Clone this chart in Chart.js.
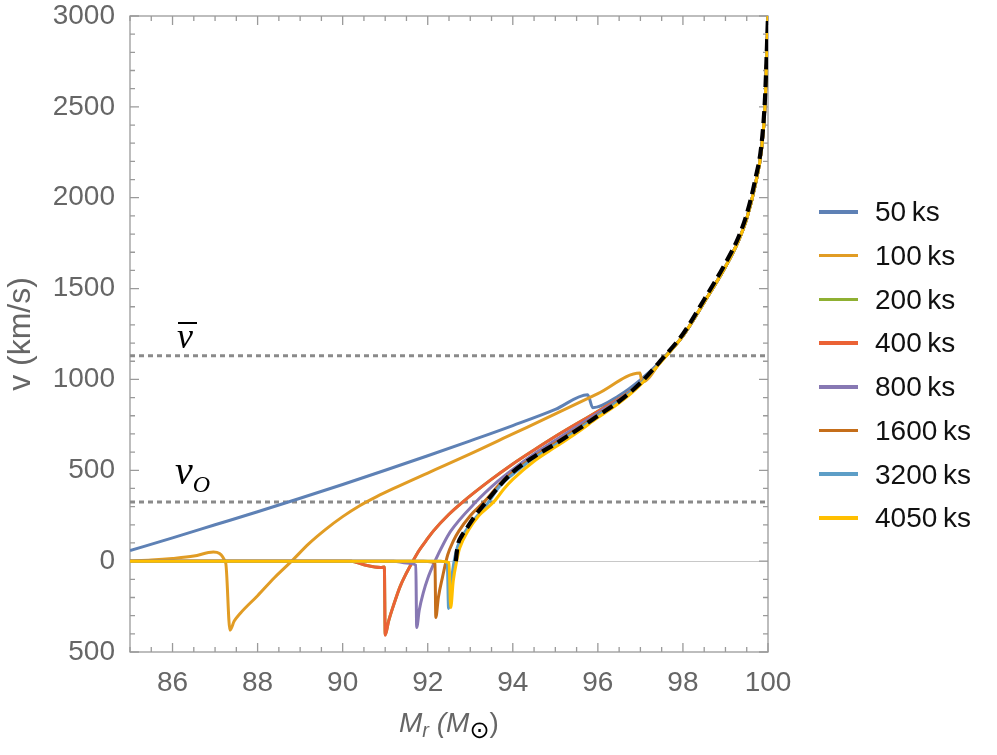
<!DOCTYPE html>
<html><head><meta charset="utf-8">
<script src="https://cdn.jsdelivr.net/npm/chart.js@4/dist/chart.umd.min.js"></script>
<style>
html,body{margin:0;padding:0;background:#fff;}
#wrap{position:relative;width:997px;height:755px;overflow:hidden;background:#fff;}
canvas{position:absolute;left:0;top:0;}
.t{position:absolute;white-space:nowrap;}
</style></head><body>
<div id="wrap"><canvas id="c" width="997" height="755"></canvas></div>
<script>
// ---------------- data ----------------
const seriesLabels = ["50\u2009ks","100\u2009ks","200\u2009ks","400\u2009ks","800\u2009ks","1600\u2009ks","3200\u2009ks","4050\u2009ks"];
const xTickLabels = [86,88,90,92,94,96,98,100];
const yTickLabels = [-500,0,500,1000,1500,2000,2500,3000];
const refLevels = [1130, 325];           // v-bar, v_O

const m50  = [85,86,87,88,89,90,91,92,93,94,95,95.76,95.88,96.5,97,97.5,98,98.5,99,99.3,99.5,99.7,99.85,99.93,100];
const v50  = [58,128,200,272,346,422,500,580,662,746,835,916,844,912,998,1105,1240,1425,1620,1760,1885,2070,2270,2510,3000];

const m100 = [85,85.5,86,86.5,86.96,87.25,87.35,87.45,87.6,88,88.4,88.8,89.2,89.6,90,90.4,90.8,91.2,92,93,94,95,96,96.99,97.04,97.5,98,98.5,99,99.3,99.5,99.7,99.85,99.93,100];
const v100 = [0,6,15,28,50,-10,-380,-330,-285,-190,-90,0,95,175,245,305,355,400,485,590,700,810,922,1035,985,1105,1240,1425,1620,1760,1885,2070,2270,2510,3000];

const m200 = [85,90.2,90.5,90.9,90.98,91.0,91.08,91.2,91.35,91.5,91.65,91.8,92.0,92.14,92.5,92.82,93.48,94,94.5,95.13,96.07,97,97.5,98,98.5,99,99.3,99.5,99.7,99.85,99.93,100];
const v200 = [0,0,-20,-35,-32,-405,-330,-240,-140,-65,0,60,125,168,258,325,447,535,612,705,835,975,1105,1240,1425,1620,1760,1885,2070,2270,2510,3000];

const m400 = [85,90.2,90.5,90.9,90.98,91.0,91.08,91.2,91.35,91.5,91.65,91.8,92.0,92.14,92.5,92.82,93.48,94,94.5,95.13,96.07,97,97.5,98,98.5,99,99.3,99.5,99.7,99.85,99.93,100];
const v400 = [0,0,-20,-35,-32,-408,-330,-240,-140,-65,0,60,125,168,258,325,447,535,612,705,835,975,1105,1240,1425,1620,1760,1885,2070,2270,2510,3000];

const m800 = [85,91.2,91.5,91.72,91.74,91.8,91.9,92.0,92.17,92.38,92.54,93.13,93.65,94,94.5,95,96,97,97.5,98,98.5,99,99.3,99.5,99.7,99.85,99.93,100];
const v800 = [0,0,-10,-22,-365,-270,-170,-95,0,100,165,325,440,505,590,665,815,975,1105,1240,1425,1620,1760,1885,2070,2270,2510,3000];

const m1600 = [85,91.9,92.1,92.17,92.19,92.25,92.35,92.47,92.6,92.73,93.0,93.32,93.7,94,94.5,95,96,97,97.5,98,98.5,99,99.3,99.5,99.7,99.85,99.93,100];
const v1600 = [0,0,-5,-15,-310,-200,-85,35,110,165,250,325,425,490,575,650,805,975,1105,1240,1425,1620,1760,1885,2070,2270,2510,3000];

const m3200 = [85,92.3,92.46,92.49,92.55,92.62,92.7,92.9,93.4,93.7,94,94.5,95,96,97,97.5,98,98.5,99,99.3,99.5,99.7,99.85,99.93,100];
const v3200 = [0,0,-10,-260,-120,0,80,170,315,415,478,568,640,800,975,1105,1240,1425,1620,1760,1885,2070,2270,2510,3000];

const m4050 = [85,92.3,92.5,92.54,92.6,92.68,92.75,92.96,93.2,93.55,93.8,94,94.5,95,95.5,96,96.5,97,97.5,98,98.5,99,99.3,99.5,99.7,99.85,99.93,100];
const v4050 = [0,0,-8,-255,-110,0,70,171,250,325,400,450,550,628,705,790,870,970,1100,1240,1425,1620,1760,1885,2070,2270,2510,3000];

const mRef = [92.66,92.7,92.8,92.89,93.1,93.37,93.67,94,94.5,95,95.5,96,96.5,97,97.5,98,98.5,99,99.3,99.5,99.7,99.85,99.93,100];
const vRef = [0,80,140,171,245,325,410,490,575,645,720,800,880,980,1110,1250,1440,1640,1780,1910,2100,2300,2550,3000];

// ---------------- styles ----------------
const colors = ["#5E81B5","#E19C24","#8FB032","#EB6235","#8778B3","#C56E1A","#5D9EC7","#FFBF00"];
const seriesM = [m50,m100,m200,m400,m800,m1600,m3200,m4050];
const seriesV = [v50,v100,v200,v400,v800,v1600,v3200,v4050];
const FONT = "'Liberation Sans', Arial, sans-serif";

const pts = (m, v) => m.map((x, i) => ({x: x, y: v[i]}));

const datasets = [];
datasets.push({label:'ref', data: pts(mRef, vRef), borderColor:'#000', borderWidth:4.2, borderDash:[12,6],
  pointRadius:0, cubicInterpolationMode:'monotone', fill:false, order:0});
seriesLabels.forEach((lab, i) => {
  datasets.push({label: lab, data: pts(seriesM[i], seriesV[i]), borderColor: colors[i], borderWidth: 3,
    pointRadius: 0, cubicInterpolationMode: 'monotone', fill: false, order: 8 - i + 1});
});
refLevels.forEach((lv) => {
  datasets.push({label:'level', data: [{x:85, y:lv}, {x:100, y:lv}], borderColor:'#8a8a8a', borderWidth:3,
    borderDash:[5,4], pointRadius:0, fill:false, order:20});
});

const framePlugin = {
  id: 'frame',
  beforeDatasetsDraw(chart) {
    const {ctx, chartArea: a, scales: {x, y}} = chart;
    ctx.save();
    ctx.strokeStyle = '#c8c8c8'; ctx.lineWidth = 1;
    const y0 = Math.round(y.getPixelForValue(0)) + 0.5;
    ctx.beginPath(); ctx.moveTo(a.left, y0); ctx.lineTo(a.right, y0); ctx.stroke();
    ctx.strokeStyle = '#9a9a9a'; ctx.lineWidth = 1.3;
    ctx.strokeRect(a.left, a.top, a.right - a.left, a.bottom - a.top);
    ctx.beginPath();
    x.ticks.forEach(t => {
      const px = x.getPixelForValue(t.value);
      const L = (t.value % 2 === 0) ? 9 : 5;
      ctx.moveTo(px, a.bottom); ctx.lineTo(px, a.bottom - L);
      ctx.moveTo(px, a.top); ctx.lineTo(px, a.top + L);
    });
    y.ticks.forEach(t => {
      const py = y.getPixelForValue(t.value);
      const L = (t.value % 500 === 0) ? 9 : 5;
      ctx.moveTo(a.left, py); ctx.lineTo(a.left + L, py);
      ctx.moveTo(a.right, py); ctx.lineTo(a.right - L, py);
    });
    ctx.stroke();
    ctx.restore();
  }
};

const chart = new Chart(document.getElementById('c').getContext('2d'), {
  type: 'line',
  data: {datasets},
  options: {
    responsive: false, animation: false, devicePixelRatio: 1,
    layout: {padding: {left: 0, right: 229, top: 16, bottom: 0}},
    plugins: {legend: {display: false}, tooltip: {enabled: false}},
    elements: {point: {radius: 0}, line: {borderCapStyle: 'butt', borderJoinStyle: 'round'}},
    scales: {
      x: {
        type: 'linear', min: 85, max: 100,
        grid: {display: false}, border: {display: false},
        afterBuildTicks: s => { const t = []; for (let k = 0; k <= 30; k++) t.push({value: 85 + k * 0.5}); s.ticks = t; },
        ticks: {autoSkip: false, maxRotation: 0, minRotation: 0, padding: 6, color: '#666',
          font: {family: FONT, size: 28},
          callback: v => xTickLabels.includes(v) ? String(v) : ''},
        afterFit: s => { s.height = 103; }
      },
      y: {
        type: 'linear', min: -500, max: 3000,
        grid: {display: false}, border: {display: false},
        afterBuildTicks: s => { const t = []; for (let k = 0; k <= 35; k++) t.push({value: -500 + k * 100}); s.ticks = t; },
        ticks: {autoSkip: false, padding: 7, color: '#666',
          font: {family: FONT, size: 28, lineHeight: 0.3},
          callback: v => yTickLabels.includes(v) ? String(Math.abs(v)) : ''},
        afterFit: s => { s.width = 130; }
      }
    }
  },
  plugins: [framePlugin]
});

// ---------------- HTML texts ----------------
const wrap = document.getElementById('wrap');
function add(html, css) { const d = document.createElement('div'); d.className = 't'; d.innerHTML = html; Object.assign(d.style, css); wrap.appendChild(d); return d; }

// legend
seriesLabels.forEach((lab, i) => {
  const cy = 212 + i * 43.7;
  const ln = document.createElement('div');
  Object.assign(ln.style, {position: 'absolute', left: '819px', top: (cy - 1.75) + 'px', width: '39px', height: '3.5px', background: colors[i]});
  wrap.appendChild(ln);
  add(lab, {left: '875px', top: (cy - 13.7) + 'px', font: "28px " + FONT, lineHeight: '28px', color: '#111'});
});

// axis titles
add('v (km/s)', {left: '-81px', top: '318px', width: '200px', textAlign: 'center', font: "32px " + FONT, lineHeight: '32px', color: '#666', transform: 'rotate(-90deg)'});
add('<i>M</i><span style="font-size:20px;font-style:italic;position:relative;top:5px">r</span>&nbsp;<i>(M</i><span style="font-size:24px;position:relative;top:6px;color:#000;font-family:\'DejaVu Sans\'">\u2299</span>)',
  {left: '399px', top: '709px', font: "28px " + FONT, lineHeight: '28px', color: '#666'});

// level labels
add('v', {left: '177px', top: '318px', font: "italic 36px 'Liberation Serif', serif", lineHeight: '36px', color: '#000'});
const bar = document.createElement('div');
Object.assign(bar.style, {position: 'absolute', left: '178px', top: '322px', width: '19px', height: '2px', background: '#000'});
wrap.appendChild(bar);
add('v<span style="font-size:24px;position:relative;top:8px">O</span>', {left: '175px', top: '451px', font: "italic 40px 'Liberation Serif', serif", lineHeight: '40px', color: '#000'});
</script>
</body></html>
